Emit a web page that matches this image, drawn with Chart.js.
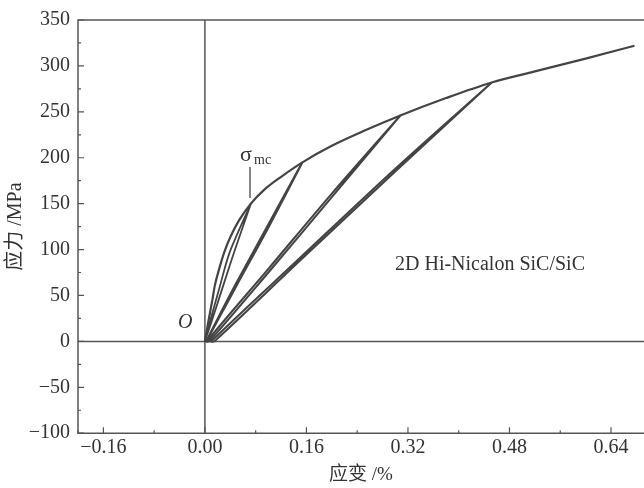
<!DOCTYPE html>
<html>
<head>
<meta charset="utf-8">
<script src="https://cdn.jsdelivr.net/npm/chart.js@4.4.1/dist/chart.umd.min.js"></script>
<style>
  html, body { margin: 0; padding: 0; background: #fff; }
  #wrap { width: 644px; height: 488px; }
</style>
</head>
<body>
<div id="wrap"><canvas id="chart" width="644" height="488"></canvas></div>
<script>
// envelope (monotonic loading) curve
const envStrain = [0, 0.005, 0.012, 0.0157, 0.0225, 0.0304, 0.041, 0.054, 0.0724, 0.0933, 0.1196, 0.1537, 0.2, 0.25, 0.308, 0.38, 0.452, 0.52, 0.6, 0.677];
const envStress = [0, 20, 46, 61, 79, 97, 115, 132, 150, 165, 179, 195, 213, 229, 246, 265, 282, 294, 308, 322];

// unload / reload loops
const loop1Strain = [0.0724, 0.046, 0.029, 0.0, 0.024, 0.039, 0.0724];
const loop1Stress = [150, 97, 61, 0, 61, 97, 150];
const loop2Strain = [0.1537, 0.1, 0.05, 0.002, 0.05, 0.1537];
const loop2Stress = [195, 124, 61, 0, 64, 195];
const loop3Strain = [0.308, 0.2, 0.1, 0.007, 0.003, 0.1, 0.2, 0.308];
const loop3Stress = [246, 157, 75, 0, 0, 79, 161, 246];
const loop4Strain = [0.452, 0.3, 0.15, 0.015, 0.01, 0.15, 0.3, 0.452];
const loop4Stress = [282, 185, 88, 0, 0, 91, 188, 282];

const xTicks = [-0.16, 0, 0.16, 0.32, 0.48, 0.64];
const xMinor = [-0.2, -0.08, 0.08, 0.24, 0.4, 0.56];
const yTicks = [-100, -50, 0, 50, 100, 150, 200, 250, 300, 350];
const yMinor = [-75, -25, 25, 75, 125, 175, 225, 275, 325];

const ink = '#444';
const serif = '"Liberation Serif", "DejaVu Serif", serif';
const cjk = '"Liberation Serif", "Noto Sans CJK SC", serif';

function pts(xs, ys) { return xs.map((x, i) => ({ x: x, y: ys[i] })); }
function fmtMinus(s) { return String(s).replace('-', '\u2212'); }

const frame = {
  id: 'frame',
  beforeDatasetsDraw(chart) {
    const { ctx, chartArea: a, scales: { x, y } } = chart;
    ctx.save();
    ctx.strokeStyle = '#555';
    ctx.lineWidth = 1.5;
    ctx.beginPath();
    ctx.moveTo(a.right, a.top); ctx.lineTo(a.left, a.top);
    ctx.lineTo(a.left, a.bottom); ctx.lineTo(a.right, a.bottom);
    // zero lines
    const x0 = x.getPixelForValue(0), y0 = y.getPixelForValue(0);
    ctx.moveTo(x0, a.top); ctx.lineTo(x0, a.bottom);
    ctx.moveTo(a.left, y0); ctx.lineTo(a.right, y0);
    ctx.stroke();
    // inward ticks
    ctx.lineWidth = 1.2;
    ctx.beginPath();
    xTicks.forEach(v => { const p = x.getPixelForValue(v); ctx.moveTo(p, a.bottom); ctx.lineTo(p, a.bottom - 6); });
    xMinor.forEach(v => { const p = x.getPixelForValue(v); ctx.moveTo(p, a.bottom); ctx.lineTo(p, a.bottom - 3); });
    yTicks.forEach(v => { const p = y.getPixelForValue(v); ctx.moveTo(a.left, p); ctx.lineTo(a.left + 6, p); });
    yMinor.forEach(v => { const p = y.getPixelForValue(v); ctx.moveTo(a.left, p); ctx.lineTo(a.left + 3, p); });
    ctx.stroke();
    ctx.restore();
  },
  afterDatasetsDraw(chart) {
    const { ctx } = chart;
    ctx.save();
    ctx.fillStyle = '#333';
    ctx.font = '20px ' + serif;
    ctx.textBaseline = 'alphabetic';
    ctx.fillText('2D Hi-Nicalon SiC/SiC', 395, 270);
    ctx.font = 'italic 20px ' + serif;
    ctx.fillText('O', 178, 328);
    // sigma_mc label
    ctx.font = '22px ' + serif;
    ctx.fillText('\u03c3', 240, 161);
    ctx.font = '14px ' + serif;
    ctx.fillText('mc', 254, 164);
    ctx.strokeStyle = ink;
    ctx.lineWidth = 1.3;
    ctx.beginPath();
    ctx.moveTo(250, 167);
    ctx.lineTo(250, 198);
    ctx.stroke();
    ctx.restore();
  }
};

function curve(data, w, mono) {
  const d = { data: data, showLine: true, borderColor: ink, borderWidth: w, pointRadius: 0,
              tension: 0.3, fill: false };
  if (mono) d.cubicInterpolationMode = 'monotone';
  return d;
}

new Chart(document.getElementById('chart'), {
  type: 'scatter',
  data: {
    datasets: [
      curve(pts(envStrain, envStress), 2.2, true),
      curve(pts(loop1Strain, loop1Stress), 1.8),
      curve(pts(loop2Strain, loop2Stress), 2.2),
      curve(pts(loop3Strain, loop3Stress), 2),
      curve(pts(loop4Strain, loop4Stress), 2)
    ]
  },
  options: {
    responsive: false,
    animation: false,
    layout: { padding: { left: 4, right: 0, top: 14, bottom: 2 } },
    plugins: { legend: { display: false }, tooltip: { enabled: false } },
    scales: {
      x: {
        type: 'linear', min: -0.2, max: 0.692,
        afterBuildTicks: s => { s.ticks = xTicks.map(v => ({ value: v })); },
        grid: { display: false, drawTicks: false },
        border: { display: false },
        ticks: { color: '#333', font: { family: serif, size: 20 }, padding: 3,
                  maxRotation: 0, callback: v => fmtMinus(v.toFixed(2)) },
        title: { display: true, text: '应变 /%', color: '#333', font: { family: cjk, size: 19 }, padding: { top: 0, bottom: 0 } }
      },
      y: {
        type: 'linear', min: -100, max: 350,
        afterBuildTicks: s => { s.ticks = yTicks.map(v => ({ value: v })); },
        afterFit: s => { s.width = 74; },
        grid: { display: false, drawTicks: false },
        border: { display: false },
        ticks: { color: '#333', font: { family: serif, size: 20 }, padding: 8,
                  callback: v => fmtMinus(v) },
        title: { display: true, text: '应力 /MPa', color: '#333', font: { family: cjk, size: 20 }, padding: { top: 0, bottom: 0 } }
      }
    }
  },
  plugins: [frame]
});
</script>
</body>
</html>
